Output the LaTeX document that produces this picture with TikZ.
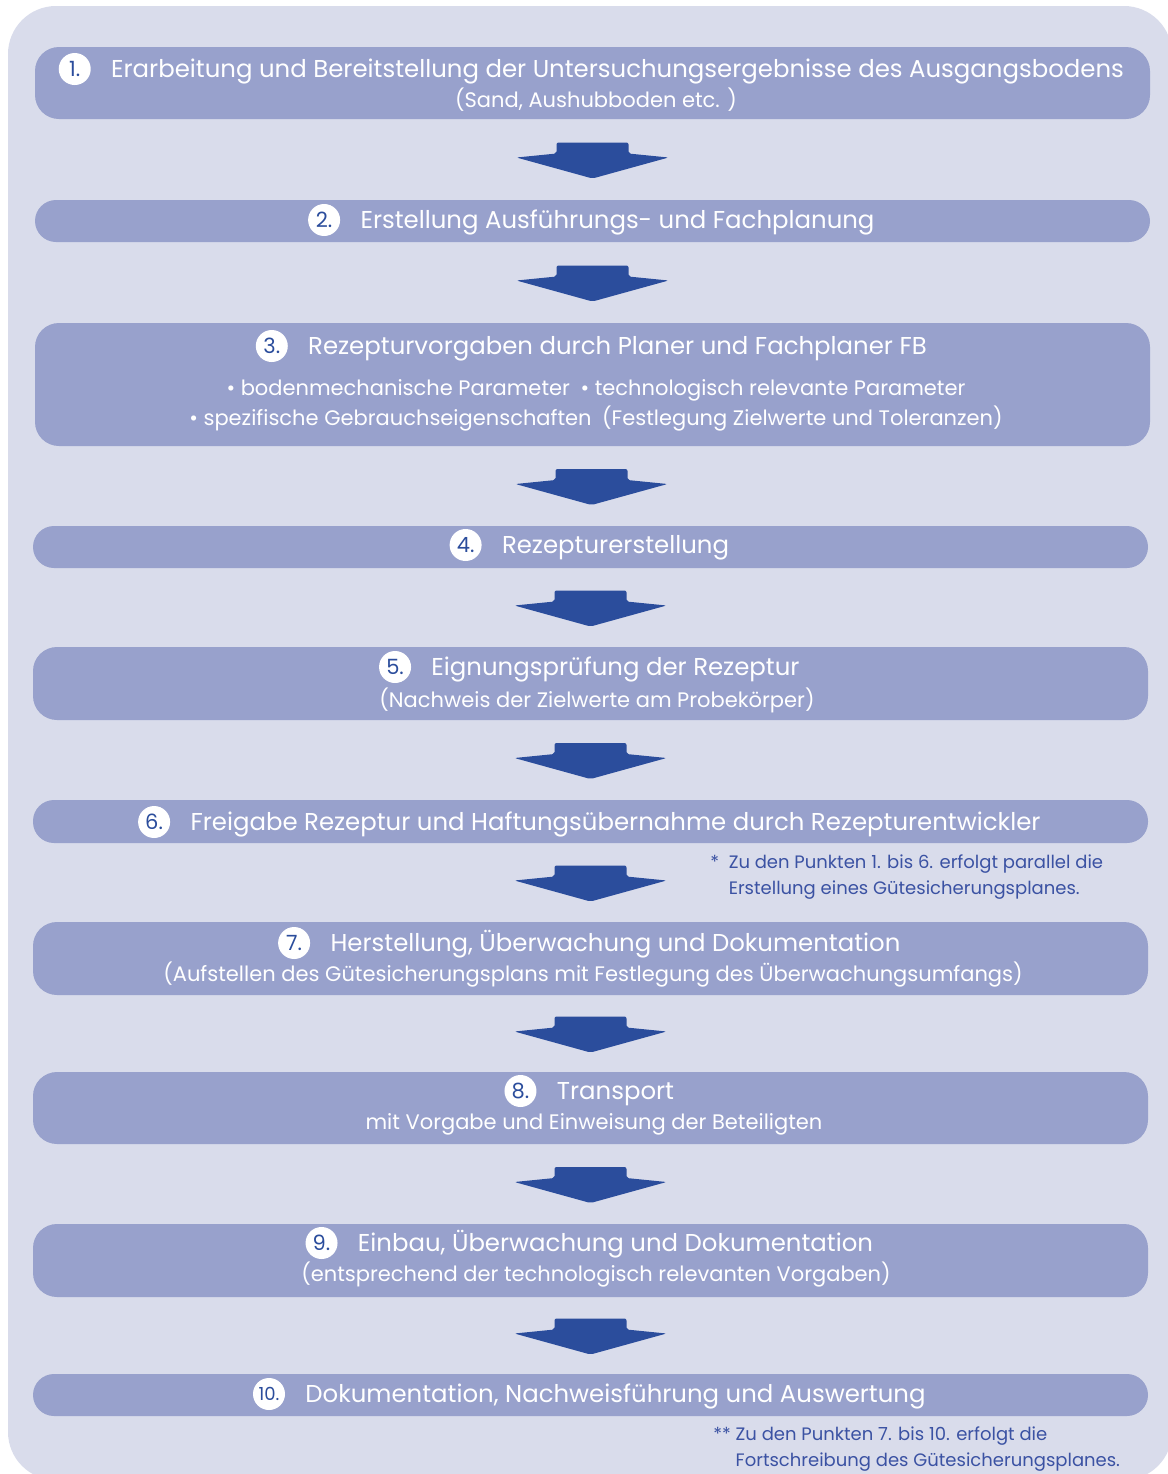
\documentclass[tikz,border=0pt]{standalone}
\usepackage{fontspec}
\setmainfont{Poppins}
\usetikzlibrary{calc}
\definecolor{bgc}{HTML}{D9DCEB}
\definecolor{boxc}{HTML}{98A1CC}
\definecolor{arrc}{HTML}{2B4D9C}
\definecolor{notec}{HTML}{3B52A3}
\tikzset{
  stepbg/.style={fill=bgc, rounded corners=24pt},
  stepbox/.style={fill=boxc, rounded corners=12pt, minimum width=557.5pt, inner sep=0pt},
  pillbox/.style={stepbox, rounded corners=10.5pt},
  ttl/.style={text=white, font=\fontsize{12.2}{14}\selectfont, text height=8.5pt, text depth=0pt, inner sep=0pt},
  subl/.style={text=white, font=\fontsize{10.5}{12}\selectfont, text height=7.5pt, text depth=0pt, inner sep=0pt},
  num/.style={circle, fill=white, minimum size=16pt, inner sep=0pt, text=arrc, font=\fontsize{10.5}{11}\selectfont},
  note/.style={text=notec, font=\fontsize{9}{13}\selectfont, inner sep=0pt, anchor=base west},
  blockarrow/.pic={
    \fill[arrc, rounded corners=1pt] (-36,-17) -- (36,-17) -- (36,-6) -- (76,-2) -- (0,19) -- (-76,-2) -- (-36,-6) -- cycle;
  }
}
\begin{document}
\begin{tikzpicture}[x=0.5pt, y=-0.5pt]
\useasboundingbox (0,0) rectangle (1168,1474);
\clip (0,0) rectangle (1168,1474);
\path[stepbg] (8,6) rectangle (1172,1480);

% boxes
\node[stepbox, minimum height=36pt]   (b1)  at (592.5, 83)    {};
\node[pillbox, minimum height=21pt]   (b2)  at (592.5, 221)   {};
\node[stepbox, minimum height=61.5pt] (b3)  at (592.5, 384.5) {};
\node[pillbox, minimum height=21pt]   (b4)  at (590.5, 547)   {};
\node[stepbox, minimum height=36.5pt] (b5)  at (590.5, 683.5) {};
\node[pillbox, minimum height=21.5pt] (b6)  at (590.5, 821.5) {};
\node[stepbox, minimum height=36.5pt] (b7)  at (590.5, 958.5) {};
\node[stepbox, minimum height=36pt]   (b8)  at (590.5, 1108)  {};
\node[stepbox, minimum height=36.5pt] (b9)  at (590.5, 1260.5){};
\node[pillbox, minimum height=21pt]   (b10) at (590.5, 1395)  {};

% arrows
\path ($(b1.south)!0.5!(b2.north)$)  pic {blockarrow};
\path ($(b2.south)!0.5!(b3.north)$)  pic {blockarrow};
\path ($(b3.south)!0.5!(b4.north)$)  pic {blockarrow};
\path ($(b4.south)!0.5!(b5.north)$)  pic {blockarrow};
\path ($(b5.south)!0.5!(b6.north)$)  pic {blockarrow};
\path ($(b6.south)!0.5!(b7.north)$)  pic {blockarrow};
\path ($(b7.south)!0.5!(b8.north)$)  pic {blockarrow};
\path ($(b8.south)!0.5!(b9.north)$)  pic {blockarrow};
\path ($(b9.south)!0.5!(b10.north)$) pic {blockarrow};

% titles
\node[ttl] (t1)  at (617.5, 69)   {Erarbeitung und Bereitstellung der Untersuchungsergebnisse des Ausgangsbodens};
\node[ttl] (t2)  at (617.5, 220)  {Erstellung Ausführungs- und Fachplanung};
\node[ttl] (t3)  at (617.5, 346)  {Rezepturvorgaben durch Planer und Fachplaner FB};
\node[ttl] (t4)  at (615.5, 545)  {Rezepturerstellung};
\node[ttl] (t5)  at (615.5, 667)  {Eignungsprüfung der Rezeptur};
\node[ttl] (t6)  at (615.5, 822)  {Freigabe Rezeptur und Haftungsübernahme durch Rezepturentwickler};
\node[ttl] (t7)  at (615.5, 943)  {Herstellung, Überwachung und Dokumentation};
\node[ttl] (t8)  at (615.5, 1091) {Transport};
\node[ttl] (t9)  at (615.5, 1243) {Einbau, Überwachung und Dokumentation};
\node[ttl] (t10) at (615.5, 1394) {Dokumentation, Nachweisführung und Auswertung};

% number circles
\node[num] (c1)  at ($(t1.west)+(-36,0)$)  {1.};
\node[num] (c2)  at ($(t2.west)+(-36,0)$)  {2.};
\node[num] (c3)  at ($(t3.west)+(-36,0)$)  {3.};
\node[num] (c4)  at ($(t4.west)+(-36,0)$)  {4.};
\node[num] (c5)  at ($(t5.west)+(-36,0)$)  {5.};
\node[num] (c6)  at ($(t6.west)+(-36,0)$)  {6.};
\node[num] (c7)  at ($(t7.west)+(-36,0)$)  {7.};
\node[num] (c8)  at ($(t8.west)+(-36,0)$)  {8.};
\node[num] (c9)  at ($(t9.west)+(-36,0)$)  {9.};
\node[num, font=\fontsize{9}{10}\selectfont] (c10) at ($(t10.west)+(-36,0)$) {10.};

% sub lines
\node[subl] (s1)  at (596, 100)  {(Sand, Aushubboden etc. )};
\node[subl] (s3a) at (596, 388)  {• bodenmechanische Parameter\enspace • technologisch relevante Parameter};
\node[subl] (s3b) at (596, 418)  {• spezifische Gebrauchseigenschaften\enspace (Festlegung Zielwerte und Toleranzen)};
\node[subl] (s5)  at (597, 700)  {(Nachweis der Zielwerte am Probekörper)};
\node[subl] (s7)  at (593, 974)  {(Aufstellen des Gütesicherungsplans mit Festlegung des Überwachungsumfangs)};
\node[subl] (s8)  at (594, 1122) {mit Vorgabe und Einweisung der Beteiligten};
\node[subl] (s9)  at (596, 1274) {(entsprechend der technologisch relevanten Vorgaben)};

% footnotes
\node[note] (n1) at (710, 868) {\begin{tabular}[t]{@{}l@{\ \ }l@{}}* & Zu den Punkten 1. bis 6. erfolgt parallel die\\ & Erstellung eines Gütesicherungsplanes.\end{tabular}};
\node[note] (n2) at (713, 1440) {\begin{tabular}[t]{@{}l@{\ }l@{}}** & Zu den Punkten 7. bis 10. erfolgt die\\ & Fortschreibung des Gütesicherungsplanes.\end{tabular}};
\end{tikzpicture}
\end{document}
